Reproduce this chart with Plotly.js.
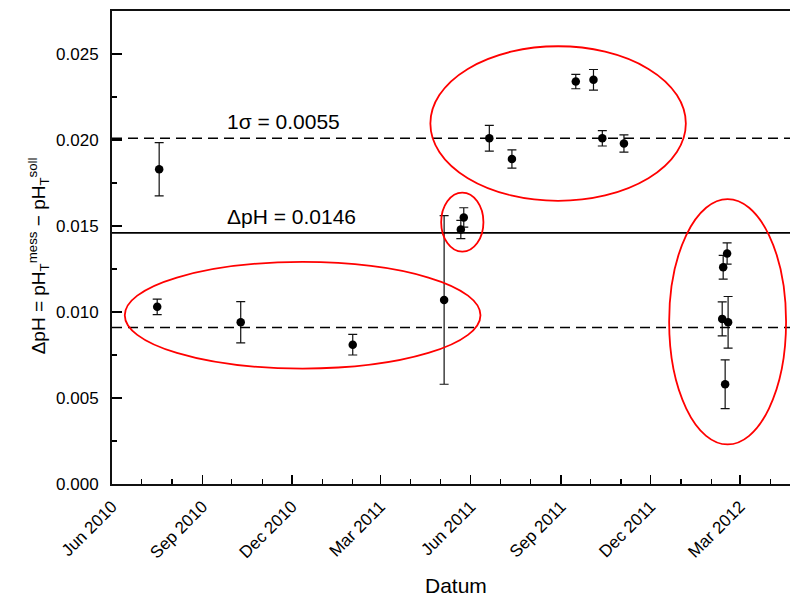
<!DOCTYPE html>
<html>
<head>
<meta charset="utf-8">
<script src="https://cdn.plot.ly/plotly-3.0.1.min.js"></script>
<style>html,body{margin:0;padding:0;background:#fff;}#chart{width:790px;height:597px;}</style>
</head>
<body>
<div id="chart"></div>
<script>
// Measurement dates
const dates = ['2010-07-19','2010-07-17','2010-10-10','2011-02-01','2011-05-05','2011-05-22','2011-05-25',
  '2011-06-20','2011-07-13','2011-09-16','2011-10-04','2011-10-13','2011-11-04',
  '2012-02-17','2012-02-13','2012-02-12','2012-02-18','2012-02-15'];
// ΔpH values
const deltaPH = [0.0183,0.0103,0.0094,0.0081,0.0107,0.0148,0.0155,
  0.0201,0.0189,0.0234,0.0235,0.0201,0.0198,
  0.0134,0.0126,0.0096,0.0094,0.0058];
// Error bars (±)
const errPH = [0.00155,0.00045,0.0012,0.0006,0.0049,0.00053,0.00056,
  0.00075,0.00053,0.00042,0.0006,0.00045,0.0005,
  0.00062,0.00069,0.00099,0.0015,0.00142];
// Reference lines: mean and ±1σ
const meanPH = 0.0146;
const sigmaPH = 0.0055;
const refLabels = ['1σ = 0.0055', 'ΔpH = 0.0146'];
// Ellipse groups [x0, x1, y0, y1]
const ellipseX0 = ['2011-04-21','2011-05-02','2011-12-20','2010-06-14'];
const ellipseX1 = ['2012-01-06','2011-06-14','2012-04-17','2011-06-11'];
const ellipseY0 = [0.01646,0.01351,0.0023,0.00671];
const ellipseY1 = [0.02545,0.01694,0.01656,0.01291];

const FONT = 'Arial, "Liberation Sans", sans-serif';

const trace = {
  x: dates, y: deltaPH, type: 'scatter', mode: 'markers',
  marker: {color: '#000', size: 8.5},
  error_y: {type: 'data', array: errPH, visible: true, color: '#111', thickness: 1.2, width: 4.5},
  showlegend: false, hoverinfo: 'x+y'
};

const shapes = [];
shapes.push({type:'line', xref:'paper', x0:0, x1:1, yref:'y', y0:meanPH+sigmaPH, y1:meanPH+sigmaPH,
  line:{color:'#000', width:1.6, dash:'10px,6px'}});
shapes.push({type:'line', xref:'paper', x0:0, x1:1, yref:'y', y0:meanPH, y1:meanPH,
  line:{color:'#000', width:1.8}});
shapes.push({type:'line', xref:'paper', x0:0, x1:1, yref:'y', y0:meanPH-sigmaPH, y1:meanPH-sigmaPH,
  line:{color:'#000', width:1.6, dash:'10px,6px'}});
for (let i = 0; i < ellipseX0.length; i++) {
  shapes.push({type:'circle', xref:'x', yref:'y', x0:ellipseX0[i], x1:ellipseX1[i], y0:ellipseY0[i], y1:ellipseY1[i],
    line:{color:'#ff0000', width:1.8}});
}

const layout = {
  width: 790, height: 597,
  margin: {l: 112, r: 0, t: 11, b: 113, pad: 0},
  paper_bgcolor: '#fff', plot_bgcolor: '#fff',
  font: {family: FONT, color: '#000', size: 17},
  xaxis: {
    type: 'date', range: ['2010-06-01', '2012-04-21'],
    tick0: '2010-06-01', dtick: 'M3', tickformat: '%b %Y', tickangle: -45,
    ticks: 'inside', ticklen: 9, tickwidth: 1.5, tickcolor: '#000',
    minor: {dtick: 'M1', ticks: 'inside', ticklen: 5, tickwidth: 1.2, tickcolor: '#000', showgrid: false},
    showline: true, linecolor: '#111', linewidth: 2, mirror: true,
    showgrid: false, zeroline: false,
    tickfont: {family: FONT, size: 17, color: '#000'},
    ticklabelstandoff: 4
  },
  yaxis: {
    range: [0, 0.0275], dtick: 0.005, tick0: 0, tickformat: '.3f',
    ticks: 'inside', ticklen: 10, tickwidth: 1.5, tickcolor: '#000',
    minor: {dtick: 0.0025, ticks: 'inside', ticklen: 5, tickwidth: 1.2, tickcolor: '#000', showgrid: false},
    showline: true, linecolor: '#111', linewidth: 2, mirror: false,
    showgrid: false, zeroline: false,
    tickfont: {family: FONT, size: 17, color: '#000'},
    ticklabelstandoff: 8
  },
  shapes: shapes,
  annotations: [
    {text: refLabels[0], xref:'x', yref:'y', x:'2010-11-23', y:0.02106, showarrow:false,
      font:{family:FONT, size:21, color:'#000'}, xanchor:'center', yanchor:'middle'},
    {text: refLabels[1], xref:'x', yref:'y', x:'2010-12-01', y:0.01555, showarrow:false,
      font:{family:FONT, size:21, color:'#000'}, xanchor:'center', yanchor:'middle'},
    {text: 'Datum', xref:'paper', yref:'paper', x:0.507, y:-0.2145, showarrow:false,
      font:{family:FONT, size:21, color:'#000'}, xanchor:'center', yanchor:'middle'},
    {text: 'ΔpH = pH<sub>T</sub><sup>mess</sup> − pH<sub>T</sub><sup>soll</sup>', xref:'paper', yref:'paper',
      x:-0.109, y:0.4815, showarrow:false, textangle:-90,
      font:{family:FONT, size:19, color:'#000'}, xanchor:'center', yanchor:'middle'}
  ]
};

Plotly.newPlot('chart', [trace], layout, {displayModeBar: false, staticPlot: true});
</script>
</body>
</html>
